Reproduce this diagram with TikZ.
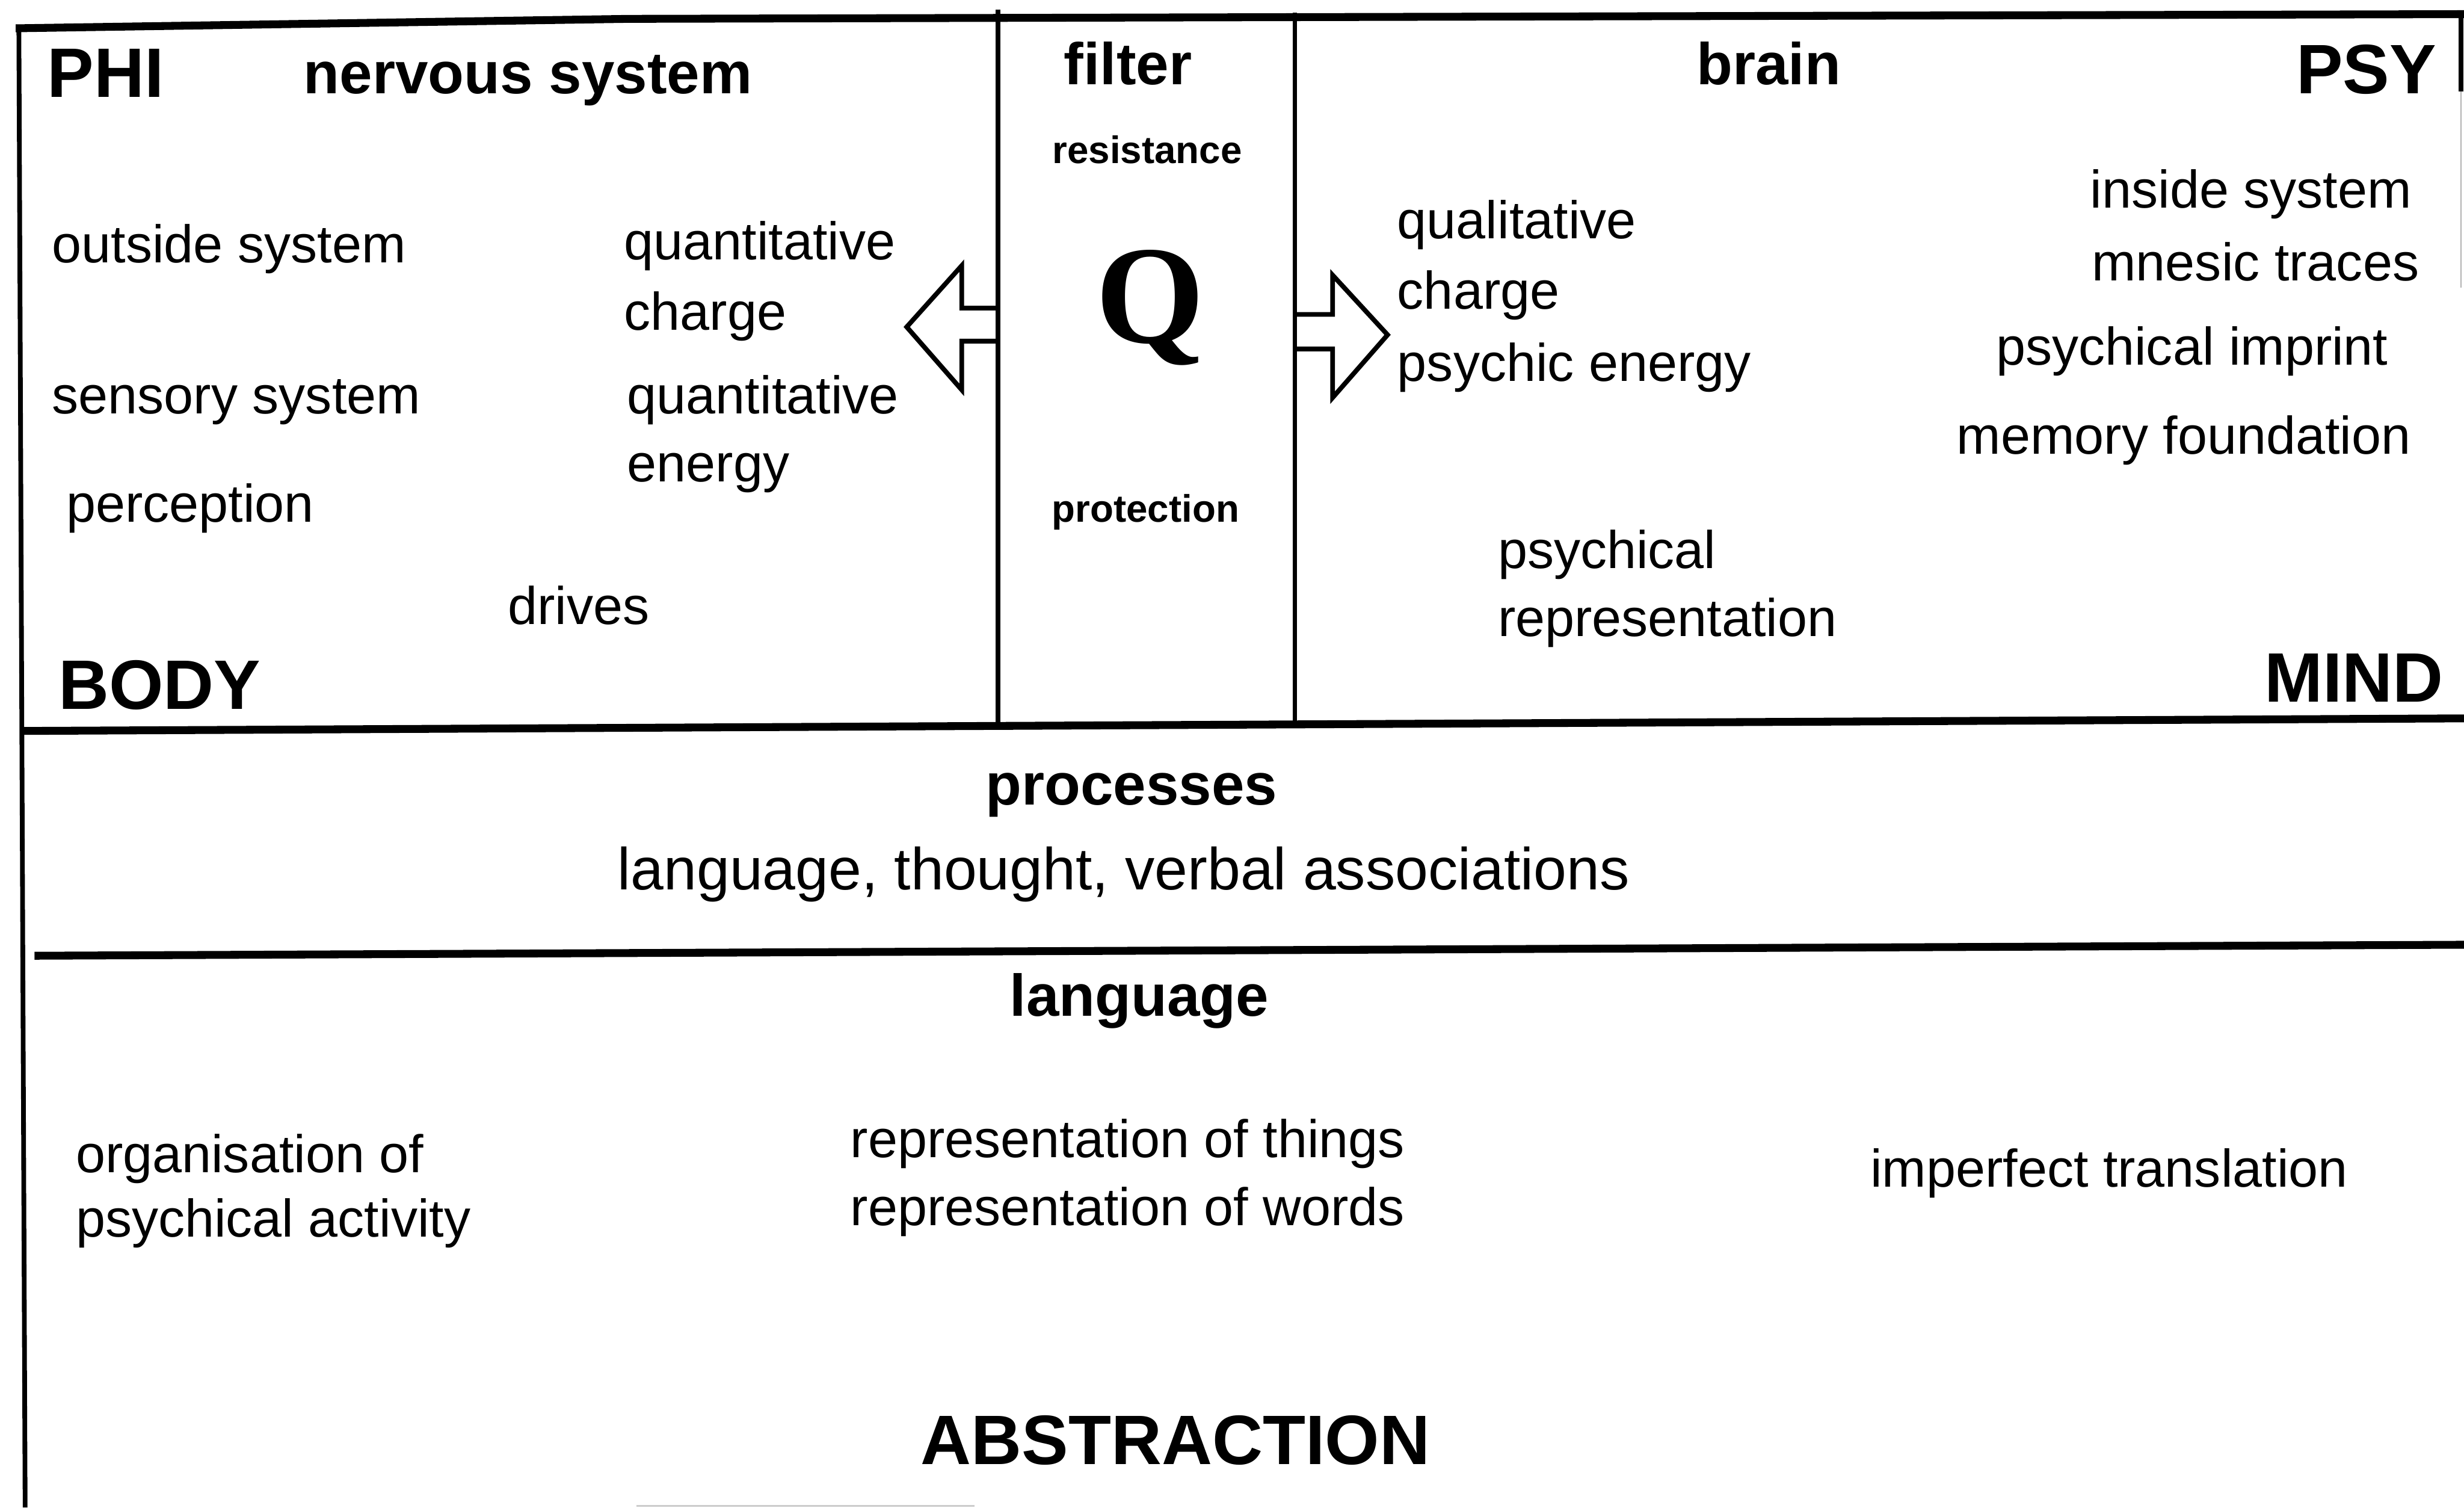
\documentclass[tikz,border=0pt]{standalone}
\usepackage{fontspec}
\setmainfont{Liberation Sans}
\newfontfamily\qfont{Liberation Serif}
\usepackage{tikz}

\begin{document}
\begin{tikzpicture}[x=0.03cm,y=-0.03cm,
	txt/.style={font=\fontsize{28.8}{30}\selectfont},
	wide/.style={font=\fontsize{32.2}{34}\selectfont},
	head/.style={font=\fontsize{32}{34}\selectfont\bfseries},
	big/.style={font=\fontsize{38}{40}\selectfont\bfseries},
	small/.style={font=\fontsize{20.8}{22}\selectfont\bfseries},
	heavy/.style={line width=0.15cm},
	frame/.style={line width=0.09cm}]
		\tikzstyle{every node}+=[inner sep=0pt]
		\useasboundingbox (0,0) rectangle (1568,959);
		\draw [heavy] (10,18) -- (400,12) -- (1568,9);
		\draw [frame] (12,16) -- (16,959);
		\draw [frame] (635,6) -- (635,462);
		\draw [frame] (824,8) -- (824,462);
		\draw [frame] (1566,9) -- (1566,58);
		\draw [gray!60, line width=0.03cm] (1566,58) -- (1566,183);
		\draw [heavy] (14,465) -- (1568,457);
		\draw [heavy] (22,608) -- (1568,601);
		\draw [gray!40, line width=0.03cm] (405,958) -- (620,958);
		\draw [frame, line join=miter] (635,196) -- (612,196) -- (612,169) -- (577,208) -- (612,248) -- (612,217) -- (635,217);
		\draw [frame, line join=miter] (824,200) -- (848,200) -- (848,175) -- (883,213) -- (848,253) -- (848,222) -- (824,222);
		\node (phi) [big, anchor=base west] at (30,62) {PHI};
		\node (nervous) [head, anchor=base west] at (193,59.5) {nervous system};
		\node (outside) [txt, anchor=base west] at (33,167) {outside system};
		\node (quantA) [txt, anchor=base west] at (397,165) {quantitative};
		\node (chargeA) [txt, anchor=base west] at (397,210) {charge};
		\node (sensory) [txt, anchor=base west] at (33,263) {sensory system};
		\node (quantB) [txt, anchor=base west] at (399,263) {quantitative};
		\node (energyB) [txt, anchor=base west] at (399,306.5) {energy};
		\node (perception) [txt, anchor=base west] at (42,332) {perception};
		\node (drives) [txt, anchor=base west] at (323,397) {drives};
		\node (body) [big, anchor=base west] at (37,451) {BODY};
		\node (filter) [head, anchor=base] at (717.8,53.6) {filter};
		\node (resist) [small, anchor=base] at (730,104) {resistance};
		\node (q) [font=\fontsize{76}{76}\selectfont\qfont\bfseries, anchor=base] at (732,218) {Q};
		\node (protect) [small, anchor=base] at (729,332) {protection};
		\node (brain) [head, anchor=base west] at (1079.5,53.6) {brain};
		\node (psy) [big, anchor=base east] at (1550.5,59.5) {PSY};
		\node (qual) [txt, anchor=base west] at (889,151.8) {qualitative};
		\node (chargeB) [txt, anchor=base west] at (889,196.4) {charge};
		\node (psychic) [txt, anchor=base west] at (889,242.6) {psychic energy};
		\node (inside) [txt, anchor=base west] at (1330,132.4) {inside system};
		\node (mnesic) [txt, anchor=base west] at (1331,178.6) {mnesic traces};
		\node (imprint) [txt, anchor=base west] at (1270,232) {psychical imprint};
		\node (memory) [txt, anchor=base west] at (1245,288.7) {memory foundation};
		\node (psychA) [txt, anchor=base west] at (953,361.6) {psychical};
		\node (reprA) [txt, anchor=base west] at (953,404.8) {representation};
		\node (mind) [big, anchor=base east] at (1555,446.4) {MIND};
		\node (processes) [head, anchor=base] at (720,512) {processes};
		\node (assoc) [wide, anchor=base] at (715,565.8) {language, thought, verbal associations};
		\node (language) [head, anchor=base] at (725,646.5) {language};
		\node (orgA) [txt, anchor=base west] at (48,745.8) {organisation of};
		\node (orgB) [txt, anchor=base west] at (48,786.8) {psychical activity};
		\node (things) [txt, anchor=base west] at (541,736.5) {representation of things};
		\node (words) [txt, anchor=base west] at (541,779.7) {representation of words};
		\node (imperfect) [txt, anchor=base west] at (1190,755.2) {imperfect translation};
		\node (abstraction) [big, anchor=base] at (748,931.7) {ABSTRACTION};
		\end{tikzpicture}
\end{document}
